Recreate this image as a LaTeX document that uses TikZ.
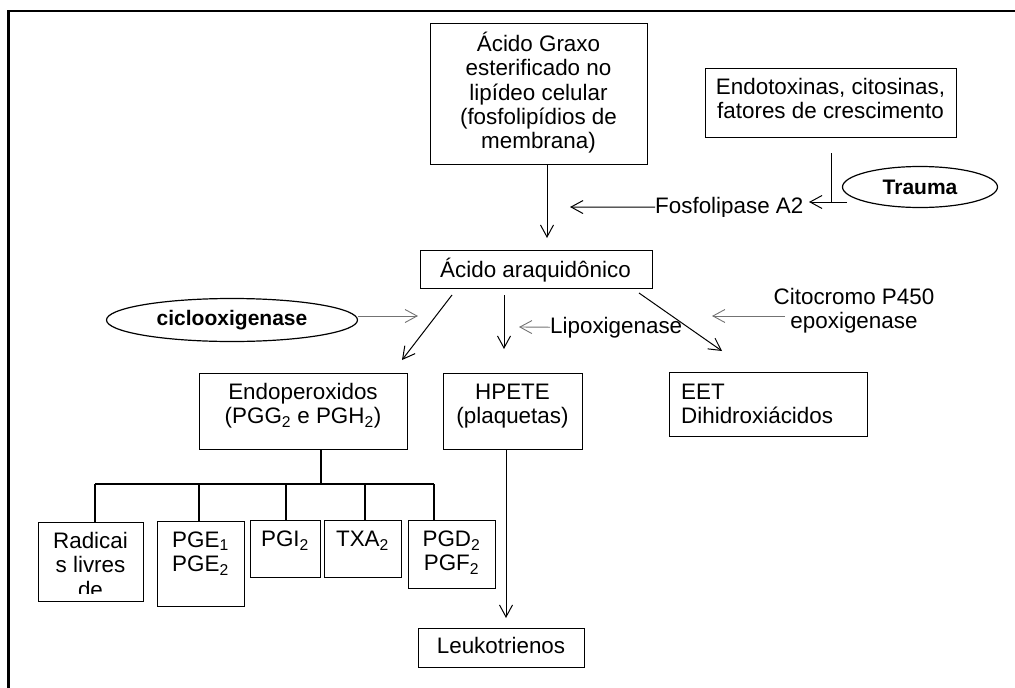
\documentclass[tikz,border=0pt]{standalone}
\usepackage{fontspec}
\setmainfont{Liberation Sans}
\usetikzlibrary{arrows.meta,shapes.geometric}
\newcommand{\bodyfont}{\fontsize{22.4}{24.4}\selectfont}
\newcommand{\heavyfont}{\fontsize{21}{24}\selectfont\bfseries}
\newcommand{\firstline}{\rule{0pt}{21pt}}
\newcommand{\low}[1]{\textsubscript{#1}}
\begin{document}
\begin{tikzpicture}[x=1pt,y=-1pt,
  boxnode/.style={draw, line width=1.2pt, inner sep=0pt, anchor=north west},
  txt/.style={font=\bodyfont, align=center, inner sep=0pt, anchor=north},
  plain/.style={font=\bodyfont, inner sep=0pt},
  oval/.style={ellipse, draw, line width=1.2pt, inner sep=0pt, font=\heavyfont},
  arr/.style={line width=1pt, -{Straight Barb[length=12pt,width=13pt,line width=1pt]}},
  greyarr/.style={line width=0.9pt, black!55, -{Straight Barb[length=12pt,width=13pt,line width=0.9pt]}},
  tree/.style={line width=2pt},
  frame/.style={line width=2.2pt}]
\useasboundingbox (0,0) rectangle (1015,688);

% outer frame (top and left edges)
\draw[frame] (8.5,688) -- (8.5,11) -- (1015,11);

% boxes
\node[boxnode, minimum width=217, minimum height=141] (graxo) at (430,23) {};
\node[txt] (graxo-t) at (538.5,30) {\firstline Ácido Graxo\\esterificado no\\lipídeo celular\\(fosfolipídios de\\membrana)};

\node[boxnode, minimum width=251, minimum height=69] (endotox) at (705,68) {};
\node[txt] (endotox-t) at (830.5,73) {\firstline Endotoxinas, citosinas,\\fatores de crescimento};

\node[boxnode, minimum width=232, minimum height=38] (araq) at (420,250) {};
\node[txt] (araq-t) at (535.5,256) {\firstline Ácido araquidônico};

\node[boxnode, minimum width=208, minimum height=76] (endoper) at (199,373) {};
\node[txt] (endoper-t) at (303,378) {\firstline Endoperoxidos\\(PGG\low{2} e PGH\low{2})};

\node[boxnode, minimum width=139, minimum height=76] (hpete) at (443,373) {};
\node[txt] (hpete-t) at (512.5,378) {\firstline HPETE\\(plaquetas)};

\node[boxnode, minimum width=198, minimum height=64] (eet) at (669,372) {};
\node[txt, anchor=north west, align=left] (eet-t) at (681,378) {\firstline EET\\Dihidroxiácidos};

\node[boxnode, minimum width=105, minimum height=79] (radicai) at (38,522) {};
\begin{scope}
  \clip (38,522) rectangle (143,593);
  \node[txt] (radicai-t) at (90.5,527) {\firstline Radicai\\s livres\\de};
\end{scope}

\node[boxnode, minimum width=87, minimum height=85] (pge) at (157,521) {};
\node[txt] (pge-t) at (200.5,526) {\firstline PGE\low{1}\\PGE\low{2}};

\node[boxnode, minimum width=70, minimum height=57] (pgi) at (250,520) {};
\node[txt] (pgi-t) at (285,525) {\firstline PGI\low{2}};

\node[boxnode, minimum width=77, minimum height=57] (txa) at (324,520) {};
\node[txt] (txa-t) at (362.5,525) {\firstline TXA\low{2}};

\node[boxnode, minimum width=87, minimum height=68] (pgd) at (408,520) {};
\node[txt] (pgd-t) at (451.5,525) {\firstline PGD\low{2}\\PGF\low{2}};

\node[boxnode, minimum width=166, minimum height=39] (leuko) at (418,628) {};
\node[txt] (leuko-t) at (501,632) {\firstline Leukotrienos};

% ellipses
\node[oval, minimum width=155, minimum height=41] (trauma) at (920,187) {Trauma};
\node[oval, minimum width=251, minimum height=43] (cox) at (232,320) {ciclooxigenase};

% enzyme labels
\begin{scope}
  \clip (640,180) rectangle (820,216);
  \node[plain, anchor=base west] (fosfo) at (655,213) {Fosfolipase A2};
\end{scope}
\node[plain, anchor=base west] (lipox) at (550,333) {Lipoxigenase};
\node[txt] (cyp) at (854,283) {\firstline Citocromo P450\\epoxigenase};

% connector end points
\coordinate (aafree) at (547,238);
\coordinate (fosfotip) at (570,207);
\coordinate (tbar) at (831,153);
\coordinate (traustart) at (847,202);
\coordinate (trautip) at (809,202);
\coordinate (coxtip) at (418,316);
\coordinate (d1s) at (452,295);
\coordinate (d1t) at (402,360);
\coordinate (d2s) at (504,295);
\coordinate (d2t) at (504,349);
\coordinate (d3s) at (639,293);
\coordinate (d3t) at (722,351);
\coordinate (liptip) at (519,327);
\coordinate (cyps) at (785,316);
\coordinate (cyptip) at (712,316);
\coordinate (lkt) at (506,618);
\coordinate (stem) at (321,484);
\coordinate (b1) at (95,484);
\coordinate (b2) at (199,484);
\coordinate (b3) at (286,484);
\coordinate (b4) at (365,484);
\coordinate (b5) at (434,484);

% arrows
\draw[arr] (graxo.south -| aafree) -- (aafree);
\draw[arr] (fosfo.west) -- (fosfotip);
\draw[line width=1pt] (tbar) -- (tbar |- trautip);
\draw[arr] (traustart) -- (trautip);
\draw[greyarr] (cox.east |- coxtip) -- (coxtip);
\draw[arr] (d1s) -- (d1t);
\draw[arr] (d2s) -- (d2t);
\draw[arr] (d3s) -- (d3t);
\draw[greyarr] (lipox.west) -- (liptip);
\draw[greyarr] (cyps) -- (cyptip);
\draw[arr] (hpete.south -| lkt) -- (lkt);

% prostanoid branching
\draw[tree] (endoper.south -| stem) -- (stem);
\draw[tree] (b1) -- (b5);
\draw[tree] (b1) -- (radicai.north -| b1);
\draw[tree] (b2) -- (pge.north -| b2);
\draw[tree] (b3) -- (pgi.north -| b3);
\draw[tree] (b4) -- (txa.north -| b4);
\draw[tree] (b5) -- (pgd.north -| b5);
\end{tikzpicture}
\end{document}
